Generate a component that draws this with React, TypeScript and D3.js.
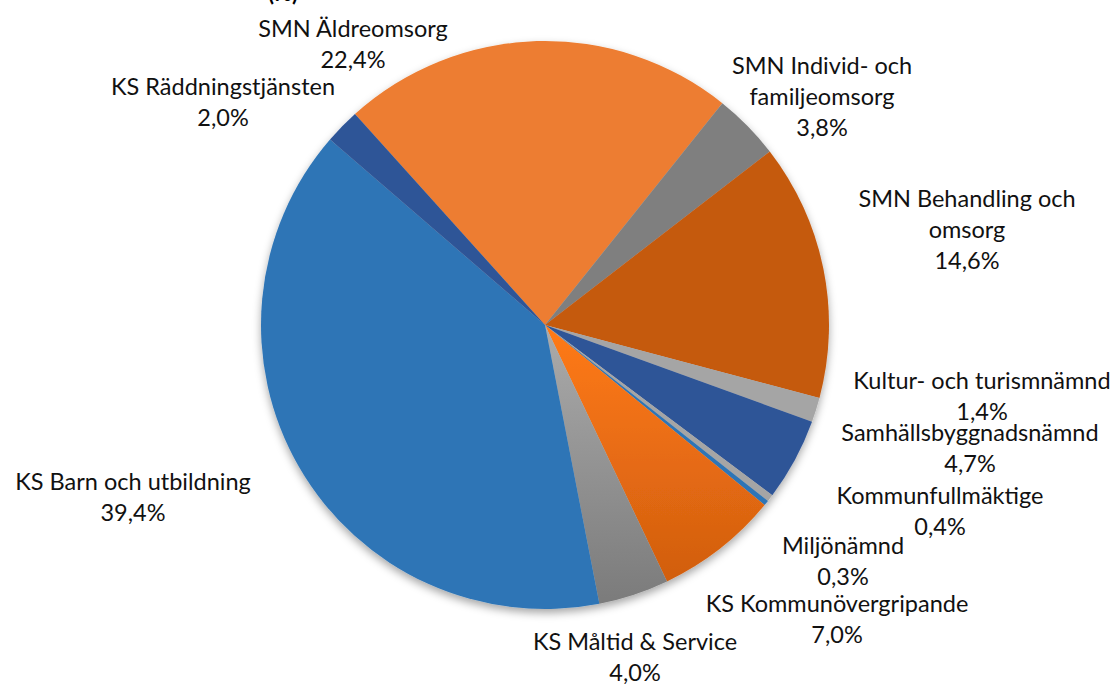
import React from 'react';
import * as d3 from 'd3';

// slices in clockwise order, starting at the top-left edge of SMN Äldreomsorg
const categories = [
  'SMN Äldreomsorg',
  'SMN Individ- och familjeomsorg',
  'SMN Behandling och omsorg',
  'Kultur- och turismnämnd',
  'Samhällsbyggnadsnämnd',
  'Kommunfullmäktige',
  'Miljönämnd',
  'KS Kommunövergripande',
  'KS Måltid & Service',
  'KS Barn och utbildning',
  'KS Räddningstjänsten',
];
const shares = [22.4, 3.8, 14.6, 1.4, 4.7, 0.4, 0.3, 7.0, 4.0, 39.4, 2.0];

// label lines (Excel wraps the long ones)
const labelLines = [
  ['SMN Äldreomsorg'],
  ['SMN Individ- och', 'familjeomsorg'],
  ['SMN Behandling och', 'omsorg'],
  ['Kultur- och turismnämnd'],
  ['Samhällsbyggnadsnämnd'],
  ['Kommunfullmäktige'],
  ['Miljönämnd'],
  ['KS Kommunövergripande'],
  ['KS Måltid & Service'],
  ['KS Barn och utbildning'],
  ['KS Räddningstjänsten'],
];

const fills = [
  '#ED7D31', '#7F7F7F', '#C55A11', '#A5A5A5', '#2F5597', '#A5A5A5',
  '#2E75B6', 'url(#gradOrange)', 'url(#gradGray)', '#2E75B6', '#2F5597',
];

// where Excel placed each label block (center x, first line y)
const labelPos: [number, number][] = [
  [353, 28], [822, 65], [967, 198], [982, 380], [970, 432], [940, 495],
  [843, 545], [837, 603], [635, 641], [133, 481], [223, 86],
];

const width = 1118;
const height = 684;
const cx = 545;
const cy = 325;
const radius = 284;
const startDeg = -42;
const lineH = 31;

export default function App() {
  const pie = d3
    .pie<number>()
    .sort(null)
    .value((d) => d)
    .startAngle((startDeg * Math.PI) / 180)
    .endAngle((startDeg * Math.PI) / 180 + 2 * Math.PI);
  const arcs = pie(shares);
  const arc = d3.arc<d3.PieArcDatum<number>>().innerRadius(0).outerRadius(radius);
  const fmt = (v: number) => v.toFixed(1).replace('.', ',') + '%';

  return (
    <svg
      width={width}
      height={height}
      style={{ position: 'absolute', left: 0, top: 0, background: '#fff' }}
    >
      <defs>
        <filter id="shadow" x="-20%" y="-20%" width="140%" height="140%">
          <feDropShadow dx="0" dy="4" stdDeviation="4" floodColor="#000" floodOpacity="0.35" />
        </filter>
        <linearGradient id="gradOrange" x1="0" y1="0" x2="0" y2="1">
          <stop offset="0%" stopColor="#FF7A17" />
          <stop offset="100%" stopColor="#D15E0F" />
        </linearGradient>
        <linearGradient id="gradGray" x1="0" y1="0" x2="0" y2="1">
          <stop offset="0%" stopColor="#ABABAB" />
          <stop offset="100%" stopColor="#7B7B7B" />
        </linearGradient>
      </defs>

      {/* title mostly above the crop, only its bottom shows */}
      <text
        x={283}
        y={1}
        textAnchor="middle"
        fontFamily="Lato, sans-serif"
        fontWeight="bold"
        fontSize={22}
        fill="#000"
      >
        (%)
      </text>

      <g transform={`translate(${cx},${cy})`}>
        <g filter="url(#shadow)">
          {arcs.map((a, i) => (
            <path key={categories[i]} d={arc(a) || ''} fill={fills[i]} />
          ))}
        </g>
      </g>

      <g fontFamily="Lato, sans-serif" fontSize={23.5} fill="#111" textAnchor="middle">
        {arcs.map((a, i) => {
          const [lx, ly] = labelPos[i];
          const lines = [...labelLines[i], fmt(shares[i])];
          return (
            <text key={categories[i]} x={lx} y={ly} dominantBaseline="central">
              {lines.map((t, j) => (
                <tspan key={j} x={lx} y={ly + j * lineH}>
                  {t}
                </tspan>
              ))}
            </text>
          );
        })}
      </g>
    </svg>
  );
}
